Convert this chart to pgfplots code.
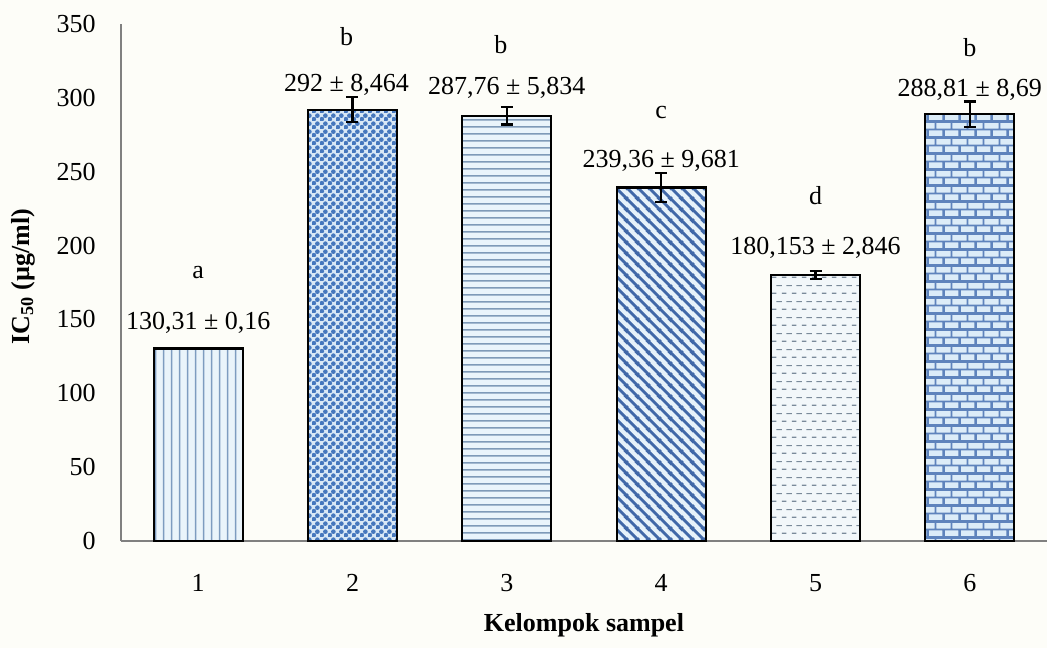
\documentclass[border=0pt]{standalone}
\usepackage{fontspec}
\setmainfont{Liberation Serif}
\usepackage{pgfplots}
\pgfplotsset{compat=1.18}
\usetikzlibrary{patterns}

\definecolor{bgc}{RGB}{253,253,248}
\definecolor{axc}{RGB}{128,128,128}
\definecolor{cAbg}{HTML}{EAF4FB}\definecolor{cA}{HTML}{7E9CC0}
\definecolor{cBbg}{HTML}{D9E8F6}\definecolor{cB}{HTML}{4677BD}
\definecolor{cCbg}{HTML}{EAF4FB}\definecolor{cC}{HTML}{7F9AB8}
\definecolor{cDbg}{HTML}{E6F2FA}\definecolor{cD}{HTML}{4068A8}
\definecolor{cEbg}{HTML}{F2F7FA}\definecolor{cE}{HTML}{7A8A9A}
\definecolor{cFbg}{HTML}{DCECF8}\definecolor{cF}{HTML}{5E83BC}

% vertical lines
\pgfdeclarepatternformonly{pvlines}{\pgfqpoint{0pt}{0pt}}{\pgfqpoint{3.8pt}{4pt}}{\pgfqpoint{3.8pt}{4pt}}{%
  \pgfsetlinewidth{0.7pt}%
  \pgfpathmoveto{\pgfqpoint{1.9pt}{-0.5pt}}\pgfpathlineto{\pgfqpoint{1.9pt}{4.5pt}}\pgfusepath{stroke}}
% dots checker
\pgfdeclarepatternformonly{pdots}{\pgfqpoint{0pt}{0pt}}{\pgfqpoint{4pt}{4pt}}{\pgfqpoint{4pt}{4pt}}{%
  \pgfpathcircle{\pgfqpoint{1pt}{1pt}}{1.3pt}\pgfpathcircle{\pgfqpoint{3pt}{3pt}}{1.3pt}\pgfusepath{fill}}
% horizontal lines
\pgfdeclarepatternformonly{phlines}{\pgfqpoint{0pt}{0pt}}{\pgfqpoint{4pt}{3.3pt}}{\pgfqpoint{4pt}{3.3pt}}{%
  \pgfsetlinewidth{0.7pt}%
  \pgfpathmoveto{\pgfqpoint{-0.5pt}{1.65pt}}\pgfpathlineto{\pgfqpoint{4.5pt}{1.65pt}}\pgfusepath{stroke}}
% diagonal (\) thick lines
\pgfdeclarepatternformonly{pdiag}{\pgfqpoint{0pt}{0pt}}{\pgfqpoint{5.5pt}{5.5pt}}{\pgfqpoint{5.5pt}{5.5pt}}{%
  \pgfsetlinewidth{1.5pt}%
  \pgfpathmoveto{\pgfqpoint{-1pt}{6.5pt}}\pgfpathlineto{\pgfqpoint{6.5pt}{-1pt}}%
  \pgfpathmoveto{\pgfqpoint{-1pt}{1pt}}\pgfpathlineto{\pgfqpoint{1pt}{-1pt}}%
  \pgfpathmoveto{\pgfqpoint{4.5pt}{6.5pt}}\pgfpathlineto{\pgfqpoint{6.5pt}{4.5pt}}%
  \pgfusepath{stroke}}
% staggered dashes
\pgfdeclarepatternformonly{pdash}{\pgfqpoint{0pt}{0pt}}{\pgfqpoint{5pt}{8pt}}{\pgfqpoint{5pt}{8pt}}{%
  \pgfsetlinewidth{0.6pt}%
  \pgfpathmoveto{\pgfqpoint{1pt}{2pt}}\pgfpathlineto{\pgfqpoint{3.5pt}{2pt}}%
  \pgfpathmoveto{\pgfqpoint{3.5pt}{6pt}}\pgfpathlineto{\pgfqpoint{5.5pt}{6pt}}%
  \pgfpathmoveto{\pgfqpoint{-0.5pt}{6pt}}\pgfpathlineto{\pgfqpoint{1pt}{6pt}}%
  \pgfusepath{stroke}}
% bricks
\pgfdeclarepatternformonly{pbrick}{\pgfqpoint{0pt}{0pt}}{\pgfqpoint{8pt}{8pt}}{\pgfqpoint{8pt}{8pt}}{%
  \pgfsetlinewidth{0.9pt}%
  \pgfpathmoveto{\pgfqpoint{-0.5pt}{0pt}}\pgfpathlineto{\pgfqpoint{8.5pt}{0pt}}%
  \pgfpathmoveto{\pgfqpoint{-0.5pt}{4pt}}\pgfpathlineto{\pgfqpoint{8.5pt}{4pt}}%
  \pgfpathmoveto{\pgfqpoint{-0.5pt}{8pt}}\pgfpathlineto{\pgfqpoint{8.5pt}{8pt}}%
  \pgfpathmoveto{\pgfqpoint{0pt}{0pt}}\pgfpathlineto{\pgfqpoint{0pt}{4pt}}%
  \pgfpathmoveto{\pgfqpoint{8pt}{0pt}}\pgfpathlineto{\pgfqpoint{8pt}{4pt}}%
  \pgfpathmoveto{\pgfqpoint{4pt}{4pt}}\pgfpathlineto{\pgfqpoint{4pt}{8pt}}%
  \pgfusepath{stroke}}

\begin{document}
\fontsize{13pt}{15pt}\selectfont
\begin{tikzpicture}
\path[use as bounding box, fill=bgc] (-60.5pt,-53.5pt) rectangle (463pt,270.5pt);
\begin{axis}[
  at={(0,0)}, anchor=south west,
  scale only axis, width=463pt, height=258.5pt,
  xmin=0.5, xmax=6.5, ymin=0, ymax=350,
  axis x line*=bottom, axis y line*=left,
  axis line style={-, draw=axc, line width=0.8pt},
  xtick={1,2,3,4,5,6},
  ytick={0,50,100,150,200,250,300,350},
  major tick length=0pt,
  tick style={draw=none},
  /pgf/number format/assume math mode=true,
  yticklabel style={anchor=east, inner sep=0pt, xshift=-12.5pt},
  xticklabel style={anchor=north, inner sep=0pt, yshift=-16.5pt},
  xlabel={\textbf{Kelompok sampel}},
  xlabel style={at={(axis description cs:0.5,0)}, anchor=center, yshift=-42pt},
  ylabel={\textbf{IC\textsubscript{50} (µg/ml)}},
  ylabel style={at={(axis description cs:-0.1058,0.511)}, anchor=center, rotate=0},
  clip=false,
  ybar, bar width=44.5pt,
  error bars/y dir=both, error bars/y explicit,
  error bars/error mark=-,
  error bars/error bar style={line width=1.1pt, black},
  error bars/error mark options={rotate=90, line width=1.1pt, black, mark size=3pt},
  every axis plot/.append style={bar shift=0pt, draw=black, line width=1.1pt},
]
\addplot[fill=cAbg, postaction={pattern=pvlines, pattern color=cA}] coordinates {(1,130.31) +- (0,0.16)};
\addplot[fill=cBbg, postaction={pattern=pdots, pattern color=cB}] coordinates {(2,292) +- (0,8.464)};
\addplot[fill=cCbg, postaction={pattern=phlines, pattern color=cC}] coordinates {(3,287.76) +- (0,5.834)};
\addplot[fill=cDbg, postaction={pattern=pdiag, pattern color=cD}] coordinates {(4,239.36) +- (0,9.681)};
\addplot[fill=cEbg, postaction={pattern=pdash, pattern color=cE}] coordinates {(5,180.153) +- (0,2.846)};
\addplot[fill=cFbg, postaction={pattern=pbrick, pattern color=cF}] coordinates {(6,288.81) +- (0,8.69)};

\node[anchor=center, yshift=13pt] at (axis cs:1,130.31) {130,31 ± 0,16};
\node[anchor=center, yshift=38pt] at (axis cs:1,130.31) {a};
\node[anchor=center, yshift=12.5pt, xshift=-3pt] at (axis cs:2,292) {292 ± 8,464};
\node[anchor=center, yshift=36.5pt, xshift=-3pt] at (axis cs:2,292) {b};
\node[anchor=center, yshift=14pt] at (axis cs:3,287.76) {287,76 ± 5,834};
\node[anchor=center, yshift=35.5pt, xshift=-3pt] at (axis cs:3,287.76) {b};
\node[anchor=center, yshift=13.5pt] at (axis cs:4,239.36) {239,36 ± 9,681};
\node[anchor=center, yshift=37.5pt] at (axis cs:4,239.36) {c};
\node[anchor=center, yshift=13.5pt] at (axis cs:5,180.153) {180,153 ± 2,846};
\node[anchor=center, yshift=39.5pt] at (axis cs:5,180.153) {d};
\node[anchor=center, yshift=12.5pt] at (axis cs:6,288.81) {288,81 ± 8,69};
\node[anchor=center, yshift=33.5pt] at (axis cs:6,288.81) {b};
\end{axis}
\end{tikzpicture}
\end{document}
